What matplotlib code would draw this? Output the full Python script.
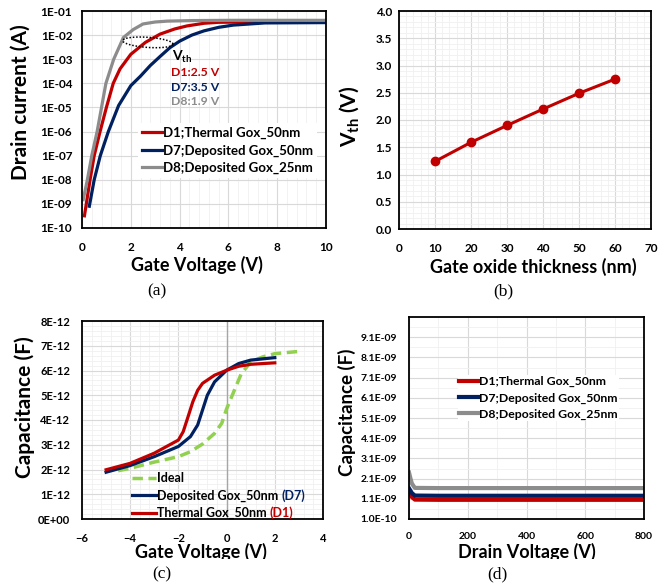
import numpy as np
import matplotlib
matplotlib.use("Agg")
import matplotlib.pyplot as plt
from matplotlib.ticker import MultipleLocator, FixedLocator, FixedFormatter, LogLocator, NullFormatter
from matplotlib.transforms import Bbox, TransformedBbox

# ---------------- data ----------------
# (a) transfer curves, gate voltage (V) vs drain current (A)
d1_vg = [0.1, 0.33, 0.5, 0.74, 1.0, 1.28, 1.56, 2.0, 2.6, 3.2, 3.8, 4.3, 5.0, 5.6, 7.0, 10.0]
d1_id = [3.2e-10, 1e-8, 1e-7, 1e-6, 1e-5, 1e-4, 4e-4, 1.6e-3, 5e-3, 1.1e-2, 1.8e-2, 2.4e-2, 3.1e-2, 3.4e-2, 3.5e-2, 3.5e-2]
d7_vg = [0.3, 0.5, 0.75, 1.08, 1.5, 2.0, 2.4, 2.8, 3.2, 3.6, 4.0, 4.5, 5.0, 5.6, 6.2, 7.5, 10.0]
d7_id = [8e-10, 1e-8, 1e-7, 1e-6, 1.2e-5, 8e-5, 2e-4, 5.5e-4, 1.3e-3, 3e-3, 5.6e-3, 1e-2, 1.5e-2, 2.1e-2, 2.6e-2, 3.2e-2, 3.3e-2]
d8_vg = [0.05, 0.22, 0.4, 0.62, 0.8, 0.98, 1.3, 1.7, 2.1, 2.5, 3.0, 3.5, 4.5, 6.0, 10.0]
d8_id = [1.5e-9, 1e-8, 1e-7, 1e-6, 1e-5, 1e-4, 1e-3, 8e-3, 1.7e-2, 2.9e-2, 3.5e-2, 3.8e-2, 4.0e-2, 4.1e-2, 4.1e-2]
labels_a = ["D1;Thermal Gox_50nm", "D7;Deposited Gox_50nm", "D8;Deposited Gox_25nm"]
ytick_a = [1e-1, 1e-2, 1e-3, 1e-4, 1e-5, 1e-6, 1e-7, 1e-8, 1e-9, 1e-10]
ytick_a_lbl = ["1E-01", "1E-02", "1E-03", "1E-04", "1E-05", "1E-06", "1E-07", "1E-08", "1E-09", "1E-10"]
vth_text = ["D1:2.5 V", "D7:3.5 V", "D8:1.9 V"]

# (b) threshold voltage vs oxide thickness
tox = [10, 20, 30, 40, 50, 60]
vth = [1.24, 1.59, 1.90, 2.20, 2.49, 2.75]

# (c) C-V curves, capacitance in units of 1e-12 F
ideal_v = [-4.5, -4.0, -3.0, -2.0, -1.5, -1.0, -0.5, -0.2, 0.0, 0.3, 0.6, 1.0, 1.5, 2.0, 3.1]
ideal_c = [1.95, 2.05, 2.3, 2.52, 2.72, 3.03, 3.46, 3.87, 4.45, 5.15, 5.85, 6.35, 6.55, 6.68, 6.78]
dep_v = [-5.0, -4.0, -3.0, -2.0, -1.5, -1.2, -1.0, -0.8, -0.5, 0.0, 0.5, 1.0, 2.0]
dep_c = [1.89, 2.16, 2.52, 2.93, 3.33, 3.8, 4.4, 5.0, 5.54, 6.01, 6.28, 6.42, 6.52]
th_v = [-5.0, -4.0, -3.0, -2.0, -1.8, -1.6, -1.4, -1.2, -1.0, -0.5, 0.0, 0.5, 1.0, 2.0]
th_c = [1.99, 2.25, 2.66, 3.19, 3.53, 4.13, 4.74, 5.2, 5.48, 5.81, 6.01, 6.17, 6.25, 6.31]
labels_c = ["Ideal", "Deposited Gox_50nm", "Thermal Gox_50nm"]
suffix_c = ["(D7)", "(D1)"]
ytick_c_lbl = ["0E+00", "1E-12", "2E-12", "3E-12", "4E-12", "5E-12", "6E-12", "7E-12", "8E-12"]

# (d) capacitance vs drain voltage
vd = [0, 5, 10, 20, 100, 400, 800]
cd_d1 = [1.45e-9, 1.3e-9, 1.18e-9, 1.06e-9, 1.05e-9, 1.05e-9, 1.05e-9]
cd_d7 = [1.62e-9, 1.5e-9, 1.38e-9, 1.26e-9, 1.25e-9, 1.25e-9, 1.25e-9]
cd_d8 = [2.4e-9, 2.1e-9, 1.85e-9, 1.64e-9, 1.63e-9, 1.63e-9, 1.63e-9]
ytick_d_lbl = ["1.0E-10", "1.1E-09", "2.1E-09", "3.1E-09", "4.1E-09",
               "5.1E-09", "6.1E-09", "7.1E-09", "8.1E-09", "9.1E-09"]

RED = "#C00000"
BLUE = "#002060"
GRAY = "#8C8C8C"
GREEN = "#92D050"

# ---------------- figure ----------------
W, H = 671, 584
plt.rcParams['font.family'] = ['Lato', 'DejaVu Sans']
plt.rcParams['font.weight'] = 'bold'
plt.rcParams['mathtext.fontset'] = 'custom'
plt.rcParams['mathtext.rm'] = 'Lato:bold'
plt.rcParams['mathtext.bf'] = 'Lato:bold'
plt.rcParams['mathtext.it'] = 'Lato:bold'

fig = plt.figure(figsize=(W / 100, H / 100), dpi=100)


def add_axes_px(l, t, r, b):
    return fig.add_axes([l / W, 1 - b / H, (r - l) / W, (b - t) / H])


def ftext(x, y, s, **kw):
    return fig.text(x / W, 1 - y / H, s, **kw)


def style(ax, xpad, ypad, size=8.5):
    ax.grid(which='major', color='#D9D9D9', lw=0.8)
    ax.grid(which='minor', color='#F0F0F0', lw=0.6)
    ax.set_axisbelow(True)
    ax.tick_params(which='both', length=0, labelsize=size)
    ax.tick_params(axis='x', pad=xpad)
    ax.tick_params(axis='y', pad=ypad)
    for s in ax.spines.values():
        s.set_linewidth(1.3)
        s.set_color('black')


ax_a = add_axes_px(82, 11, 326, 228)
ax_b = add_axes_px(399, 11, 651, 229)
ax_c = add_axes_px(82, 321, 323, 519)
ax_d = add_axes_px(409, 317, 644, 519)

# ---- (a)
ax_a.plot(d1_vg, d1_id, color=RED, lw=2.3, label=labels_a[0])
ax_a.plot(d7_vg, d7_id, color=BLUE, lw=2.3, label=labels_a[1])
ax_a.plot(d8_vg, d8_id, color=GRAY, lw=2.3, label=labels_a[2])
ax_a.set_yscale('log')
ax_a.set_xlim(0, 10)
ax_a.set_ylim(1e-10, 1e-1)
ax_a.xaxis.set_major_locator(MultipleLocator(2))
ax_a.xaxis.set_minor_locator(MultipleLocator(0.4))
ax_a.yaxis.set_major_locator(FixedLocator(ytick_a))
ax_a.yaxis.set_major_formatter(FixedFormatter(ytick_a_lbl))
ax_a.yaxis.set_minor_locator(LogLocator(base=10, subs=np.arange(2, 10)))
ax_a.yaxis.set_minor_formatter(NullFormatter())
style(ax_a, 10, 7)

# dotted ellipse marking the threshold region
t = np.linspace(0, 2 * np.pi, 100)
ell_v = 2.7 + 1.03 * np.cos(t)
ell_i = 10 ** (np.log10(5e-3) + 0.21 * np.sin(t) - 0.07 * np.cos(t))
ax_a.plot(ell_v, ell_i, color='black', lw=1.1, ls=(0, (1, 1.2)))

ax_a.text(3.69, 1.2e-3, r"V$_{\mathbf{th}}$", fontsize=10, color='black', va='center')
ax_a.text(3.65, 2.9e-4, vth_text[0], fontsize=8.8, color=RED, va='center')
ax_a.text(3.65, 6.8e-5, vth_text[1], fontsize=8.8, color=BLUE, va='center')
ax_a.text(3.65, 1.8e-5, vth_text[2], fontsize=8.8, color=GRAY, va='center')

ax_a.legend(loc='upper left', bbox_to_anchor=(138 / W, 1 - 123 / H), bbox_transform=fig.transFigure,
            fontsize=9.5, frameon=True, facecolor='white', edgecolor='none', framealpha=1,
            handlelength=1.5, handletextpad=0.1, labelspacing=0.4, borderpad=0.3,
            borderaxespad=0, fancybox=False)

# ---- (b)
ax_b.plot(tox, vth, color=RED, lw=2.2, marker='o', markersize=6)
ax_b.set_xlim(0, 70)
ax_b.set_ylim(0, 4)
ax_b.xaxis.set_major_locator(MultipleLocator(10))
ax_b.xaxis.set_minor_locator(MultipleLocator(2))
ax_b.yaxis.set_major_locator(MultipleLocator(0.5))
ax_b.yaxis.set_minor_locator(MultipleLocator(0.1))
ax_b.yaxis.set_major_formatter(matplotlib.ticker.FormatStrFormatter('%.1f'))
style(ax_b, 10, 5)

# ---- (c)
ax_c.axvline(0, color='#A6A6A6', lw=1.0, zorder=1)
ax_c.plot(ideal_v, np.array(ideal_c) * 1e-12, color=GREEN, lw=2.5, ls=(0, (3, 1.6)), label=labels_c[0])
ax_c.plot(dep_v, np.array(dep_c) * 1e-12, color=BLUE, lw=2.3, label=labels_c[1])
ax_c.plot(th_v, np.array(th_c) * 1e-12, color=RED, lw=2.3, label=labels_c[2])
ax_c.set_xlim(-6, 4)
ax_c.set_ylim(0, 8e-12)
ax_c.xaxis.set_major_locator(MultipleLocator(2))
ax_c.xaxis.set_minor_locator(MultipleLocator(0.4))
ax_c.yaxis.set_major_locator(FixedLocator(np.arange(9) * 1e-12))
ax_c.yaxis.set_major_formatter(FixedFormatter(ytick_c_lbl))
ax_c.yaxis.set_minor_locator(MultipleLocator(0.2e-12))
style(ax_c, 10, 8.5, size=8)
leg_c = ax_c.legend(loc='upper left', bbox_to_anchor=(131 / W, 1 - 471 / H), bbox_transform=fig.transFigure,
                    fontsize=9, frameon=False,
                    handlelength=1.9, handletextpad=0.1, labelspacing=0.42, borderpad=0.1,
                    borderaxespad=0)

# ---- (d)
ax_d.plot(vd, cd_d1, color=RED, lw=3, label=labels_a[0])
ax_d.plot(vd, cd_d7, color=BLUE, lw=3, label=labels_a[1])
ax_d.plot(vd, cd_d8, color=GRAY, lw=3, label=labels_a[2])
ax_d.set_xlim(0, 800)
ax_d.set_ylim(1e-10, 1.01e-8)
ax_d.xaxis.set_major_locator(MultipleLocator(200))
ax_d.xaxis.set_minor_locator(MultipleLocator(100))
ax_d.yaxis.set_major_locator(FixedLocator(1e-10 + np.arange(10) * 1e-9))
ax_d.yaxis.set_major_formatter(FixedFormatter(ytick_d_lbl))
ax_d.yaxis.set_minor_locator(MultipleLocator(5e-10, offset=1e-10))
style(ax_d, 9.5, 8.5, size=7.5)
ax_d.legend(loc='upper left', bbox_to_anchor=(458 / W, 1 - 375 / H), bbox_transform=fig.transFigure,
            fontsize=8.8, frameon=True, facecolor='white', edgecolor='none', framealpha=1,
            handlelength=1.5, handletextpad=0.1, labelspacing=0.42, borderpad=0.1,
            borderaxespad=0, fancybox=False)

# ---- axis titles and panel letters
ftext(197, 271, "Gate Voltage (V)", fontsize=13, ha='center', va='baseline')
ftext(21, 102, "Drain current (A)", fontsize=15, ha='center', va='center', rotation=90)
ftext(533, 273, "Gate oxide thickness (nm)", fontsize=13, ha='center', va='baseline')
ftext(349, 116, r"V$_{\mathbf{th}}$ (V)", fontsize=15, ha='center', va='center', rotation=90)
ftext(25, 407, "Capacitance (F)", fontsize=15, ha='center', va='center', rotation=90)
ftext(347, 412, "Capacitance (F)", fontsize=13.5, ha='center', va='center', rotation=90)

clip = TransformedBbox(Bbox([[0, 1 - 559 / H], [1, 1]]), fig.transFigure)
for x, s in [(201, "Gate Voltage (V)"), (527, "Drain Voltage (V)")]:
    tx = ftext(x, 558, s, fontsize=13, ha='center', va='baseline')
    tx.set_clip_box(clip)
    tx.set_clip_on(True)

for x, y, s in [(157, 291, "(a)"), (503, 291, "(b)"), (162, 574, "(c)"), (497, 574, "(d)")]:
    ftext(x, y, s, fontsize=12.5, ha='center', va='center', family='Liberation Serif', weight='normal')

# coloured device tags after the (c) legend entries
fig.canvas.draw()
renderer = fig.canvas.get_renderer()
for txt, suf, col in zip(leg_c.get_texts()[1:], suffix_c, [BLUE, RED]):
    bb = txt.get_window_extent(renderer)
    fig.text((bb.x1 + 3) / W, (bb.y0 + bb.y1) / 2 / H, suf, color=col, fontsize=9, va='center', ha='left')

fig.savefig("out.png", dpi=100, facecolor='white')
